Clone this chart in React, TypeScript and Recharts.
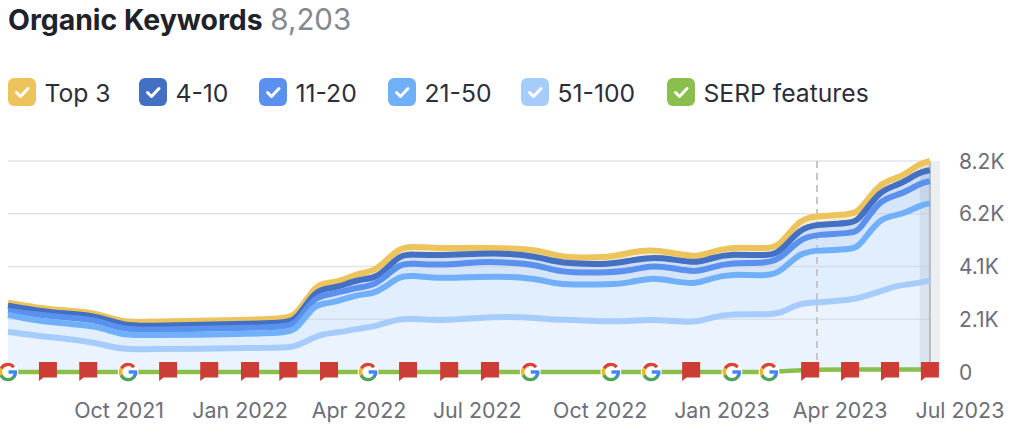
import React from "react";
import { ComposedChart, Area, Line, XAxis, YAxis, ReferenceLine, ReferenceArea } from "recharts";

const months = [-2.16,-1.44,-0.69,0.05,0.69,1.36,2.6,3.84,4.76,5.01,5.41,5.65,6.0,6.5,6.89,7.14,7.56,7.88,8.55,9.55,10.29,10.91,11.41,11.78,12.77,13.27,13.76,14.26,14.88,15.25,15.75,16.74,17.03,17.48,17.9,18.79,18.97,19.46,19.89,20.13,20.46,20.7];
const top3 = [2694,2499,2382,2304,1913,1952,1992,2031,2070,2265,3241,3475,3475,3827,3905,4217,4842,4881,4803,4842,4803,4764,4530,4452,4452,4647,4764,4647,4452,4647,4881,4764,4998,5975,6053,6131,6287,7380,7537,7732,8122,8203];
const pos4to10 = [2577,2382,2265,2187,1796,1796,1835,1874,1913,2070,3046,3241,3280,3593,3632,3866,4569,4569,4530,4608,4608,4491,4296,4217,4178,4335,4452,4413,4217,4413,4608,4491,4725,5584,5740,5779,5975,7068,7263,7459,7771,7849];
const pos11to20 = [2382,2226,2109,2031,1640,1640,1679,1718,1757,1913,2851,2968,3085,3280,3358,3632,4217,4217,4139,4296,4256,4178,3944,3866,3866,3944,4139,4061,3866,4061,4256,4217,4452,5194,5350,5389,5545,6717,6873,7029,7341,7420];
const pos21to50 = [2226,1992,1874,1796,1406,1445,1445,1484,1523,1679,2577,2655,2734,3007,3046,3241,3749,3749,3632,3710,3710,3632,3436,3397,3397,3475,3671,3554,3397,3632,3827,3710,3944,4647,4725,4764,4920,6014,6092,6209,6482,6560];
const pos51to100 = [1562,1406,1289,1132,859,898,898,937,937,1015,1328,1484,1523,1679,1757,1874,2070,2070,1992,2109,2148,2109,2031,2031,1953,1992,2031,1992,1913,2109,2265,2226,2304,2694,2694,2812,2890,3124,3358,3397,3475,3554];

const serpMonths = [-2.16,-1.17,-0.17,0.82,1.81,2.83,3.84,4.79,5.8,6.77,7.76,8.78,9.79,10.79,12.79,13.79,14.78,15.79,16.71,17.73,18.72,19.71,20.7];
const serpValues = [0,0,0,0,0,0,0,0,0,0,0,0,0,0,0,0,0,0,0,90,95,100,100];
const serpEvents = ["G","F","F","G","F","F","F","F","F","G","F","F","F","G","G","G","F","G","G","F","F","F","F"];
const eventBase = [0,0,0,0,0,0,0,0,0,0,0,0,0,0,0,0,0,0,0,0,0,0,0];

const xTicks = [0,3,5.95,8.88,11.93,14.95,17.88,20.85];
const xLabels = ["Oct 2021","Jan 2022","Apr 2022","Jul 2022","Oct 2022","Jan 2023","Apr 2023","Jul 2023"];
const yTicks = [0,2050,4100,6150,8200];
const yLabels = ["0","2.1K","4.1K","6.2K","8.2K"];

const legendNames = ["Top 3","4-10","11-20","21-50","51-100","SERP features"];
const legendColors = ["#edc45c","#4470c4","#5a90ee","#70b0fa","#a6ccfb","#8abf4d"];
const legendX = [8,139,259,388,521,667];

const table = months.map((m, i) => ({
  m, top3: top3[i], a: pos4to10[i], b: pos11to20[i], c: pos21to50[i], d: pos51to100[i],
}));
const serpTable = serpMonths.map((m, i) => ({ m, serp: serpValues[i], ev: serpEvents[i], base: eventBase[i] }));

const FONT = "Inter, sans-serif";
const GREY = "#6c6e79";

function arc(cx: number, cy: number, r: number, a0: number, a1: number) {
  const p = (a: number) => [cx + r * Math.cos((a * Math.PI) / 180), cy + r * Math.sin((a * Math.PI) / 180)];
  const [x0, y0] = p(a0);
  const [x1, y1] = p(a1);
  return `M${x0} ${y0}A${r} ${r} 0 ${Math.abs(a1 - a0) > 180 ? 1 : 0} 1 ${x1} ${y1}`;
}

function Marker(props: any) {
  const { cx, cy, payload, index } = props;
  if (payload.ev === "F") {
    const x = cx - 9, y = cy - 10;
    return (
      <path key={index} d={`M${x} ${y}h18v15.5h-13.5l-4.5 3.5z`} fill="#cc3d36" />
    );
  }
  return (
    <g key={index}>
      <circle cx={cx} cy={cy} r={10.5} fill="#fff" />
      <g fill="none" strokeWidth={3.4}>
        <path d={arc(cx, cy, 7.6, 205, 320)} stroke="#d8453a" />
        <path d={arc(cx, cy, 7.6, 150, 210)} stroke="#eeb82e" />
        <path d={arc(cx, cy, 7.6, 35, 155)} stroke="#4fa35a" />
        <path d={arc(cx, cy, 7.6, 0, 40)} stroke="#4285f4" />
        <path d={`M${cx + 0.5} ${cy}H${cx + 9}`} stroke="#4285f4" />
      </g>
    </g>
  );
}

function XTick(props: any) {
  const { x, index } = props;
  return (
    <text x={x + 24} y={418} textAnchor="middle" fontFamily={FONT} fontSize={21.4} fill={GREY}>
      {xLabels[index]}
    </text>
  );
}

function YTick(props: any) {
  const { y, index } = props;
  return (
    <text x={959} y={y + 7.5} textAnchor="start" fontFamily={FONT} fontSize={21} fill={GREY}>
      {yLabels[index]}
    </text>
  );
}

function Check() {
  return (
    <svg width={28} height={28} style={{ display: "block" }}>
      <path d="M8.5 14.5l4 4 7.5-8" fill="none" stroke="#fff" strokeWidth={3} strokeLinecap="round" strokeLinejoin="round" />
    </svg>
  );
}

const CURVE = "basis";

export default function App() {
  return (
    <div style={{ position: "absolute", left: 0, top: 0, width: 1024, height: 434, background: "#fff", overflow: "hidden", fontFamily: FONT }}>
      <div style={{ position: "absolute", left: 8, top: 1, whiteSpace: "nowrap", fontSize: 28.4, lineHeight: "36px", fontWeight: 700, color: "#1f212b" }}>
        Organic Keywords <span style={{ fontWeight: 400, fontSize: 29.5, color: "#858791", marginLeft: 1 }}>8,203</span>
      </div>
      {legendNames.map((n, i) => (
        <div key={n}>
          <div style={{ position: "absolute", left: legendX[i], top: 78, width: 28, height: 28, borderRadius: 6, background: legendColors[i] }}>
            <Check />
          </div>
          <div style={{ position: "absolute", left: legendX[i] + 36.5, top: 78.5, lineHeight: "29px", fontSize: 24.7, color: "#2c2e38", whiteSpace: "nowrap" }}>{n}</div>
        </div>
      ))}
      <div style={{ position: "absolute", left: 0, top: 0 }}>
        <ComposedChart width={1024} height={434} data={table} margin={{ top: 161, right: 0, bottom: 0, left: 8 }}>
          <XAxis dataKey="m" type="number" domain={[-2.16, 21]} ticks={xTicks} interval={0} height={62} axisLine={false} tickLine={false} tick={<XTick />} />
          <YAxis orientation="right" width={82} domain={[0, 8200]} ticks={yTicks} interval={0} axisLine={false} tickLine={false} tick={<YTick />} />
          <Area dataKey="top3" type={CURVE} stroke="none" fill="#f7eed2" fillOpacity={1} dot={false} activeDot={false} isAnimationActive={false} />
          <Area dataKey="a" type={CURVE} stroke="none" fill="#cfdef5" fillOpacity={1} dot={false} activeDot={false} isAnimationActive={false} />
          <Area dataKey="b" type={CURVE} stroke="none" fill="#d6e5fa" fillOpacity={1} dot={false} activeDot={false} isAnimationActive={false} />
          <Area dataKey="c" type={CURVE} stroke="none" fill="#e0eefd" fillOpacity={1} dot={false} activeDot={false} isAnimationActive={false} />
          <Area dataKey="d" type={CURVE} stroke="none" fill="#ebf4fe" fillOpacity={1} dot={false} activeDot={false} isAnimationActive={false} />
          {yTicks.slice(1).map((v) => (
            <ReferenceLine key={v} segment={[{ x: -2.16, y: v }, { x: 20.7, y: v }]} stroke="#c8cbd3" strokeOpacity={0.5} strokeWidth={1.5} />
          ))}
          <ReferenceLine x={17.9} stroke="#c4c7cc" strokeWidth={2} strokeDasharray="7 5" />
          <ReferenceArea x1={20.45} x2={20.95} y1={0} y2={8200} fill="#3c465a" fillOpacity={0.09} stroke="none" />
          <ReferenceLine x={20.7} stroke="#b4bac4" strokeWidth={2} />
          <Line dataKey="top3" type={CURVE} stroke="#edc45c" strokeWidth={6} dot={false} activeDot={false} isAnimationActive={false} />
          <Line dataKey="a" type={CURVE} stroke="#4470c4" strokeWidth={6} dot={false} activeDot={false} isAnimationActive={false} />
          <Line dataKey="b" type={CURVE} stroke="#5a90ee" strokeWidth={6} dot={false} activeDot={false} isAnimationActive={false} />
          <Line dataKey="c" type={CURVE} stroke="#70b0fa" strokeWidth={6} dot={false} activeDot={false} isAnimationActive={false} />
          <Line dataKey="d" type={CURVE} stroke="#a6ccfb" strokeWidth={6} dot={false} activeDot={false} isAnimationActive={false} />
          <Line data={serpTable} dataKey="serp" type="linear" stroke="#8abf4d" strokeWidth={4.5} dot={false} activeDot={false} isAnimationActive={false} />
          <Line data={serpTable} dataKey="base" type="linear" stroke="none" dot={<Marker />} activeDot={false} isAnimationActive={false} />
        </ComposedChart>
      </div>
    </div>
  );
}
